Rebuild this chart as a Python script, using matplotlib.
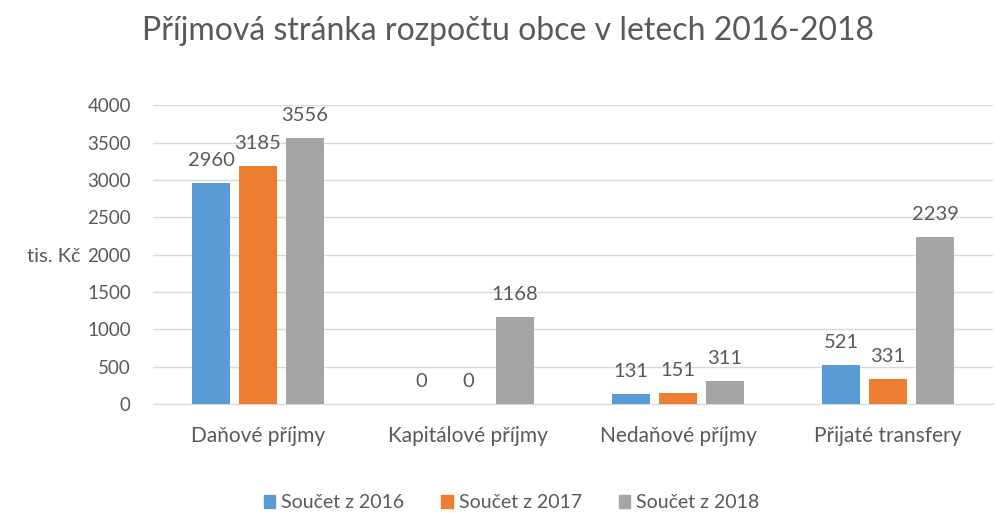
import numpy as np
import matplotlib.pyplot as plt
from matplotlib.patches import Patch

categories = ['Daňové příjmy', 'Kapitálové příjmy', 'Nedaňové příjmy', 'Přijaté transfery']
series = ['Součet z 2016', 'Součet z 2017', 'Součet z 2018']
values = [
    [2960, 0, 131, 521],
    [3185, 0, 151, 331],
    [3556, 1168, 311, 2239],
]
colors = ['#5b9bd5', '#ed7d31', '#a5a5a5']

plt.rcParams['font.family'] = ['Lato', 'DejaVu Sans']
txt = '#595959'

fig = plt.figure(figsize=(9.97, 5.13), dpi=100)
ax = fig.add_axes([0.1535, 0.2125, 0.8425, 0.5825])

x = np.arange(len(categories))
w = 0.18
step = 0.224
for i, (s, v, c) in enumerate(zip(series, values, colors)):
    pos = x + (i - 1) * step
    ax.bar(pos, v, width=w, color=c, label=s, zorder=3)
    for p, val in zip(pos, v):
        ax.text(p, val + 190, str(val), ha='center', va='bottom', fontsize=14.5, color=txt)

ax.set_xlim(-0.5, 3.5)
ax.set_ylim(0, 4000)
ax.set_yticks(range(0, 4001, 500))
ax.set_xticks(x)
ax.set_xticklabels(categories, fontsize=15)
ax.tick_params(axis='y', length=0, labelsize=13.5, colors=txt, pad=16)
ax.tick_params(axis='x', length=0, colors=txt, pad=16)
ax.grid(axis='y', color='#d9d9d9', linewidth=1, zorder=0)
for sp in ['top', 'right', 'left']:
    ax.spines[sp].set_visible(False)
ax.spines['bottom'].set_color('#d9d9d9')

fig.text(0.027, 0.5, 'tis. Kč', fontsize=14.5, color=txt, ha='left', va='center')
fig.text(0.51, 0.94, 'Příjmová stránka rozpočtu obce v letech 2016-2018',
         fontsize=23, color=txt, ha='center', va='center')

handles = [Patch(color=c, label=s) for s, c in zip(series, colors)]
fig.legend(handles=handles, loc='center', bbox_to_anchor=(0.513, 0.02), ncol=3,
           frameon=False, fontsize=14, labelcolor=txt, handlelength=0.6,
           handleheight=0.6, handletextpad=0.3, columnspacing=1.9)

fig.savefig('out.png', dpi=100)
